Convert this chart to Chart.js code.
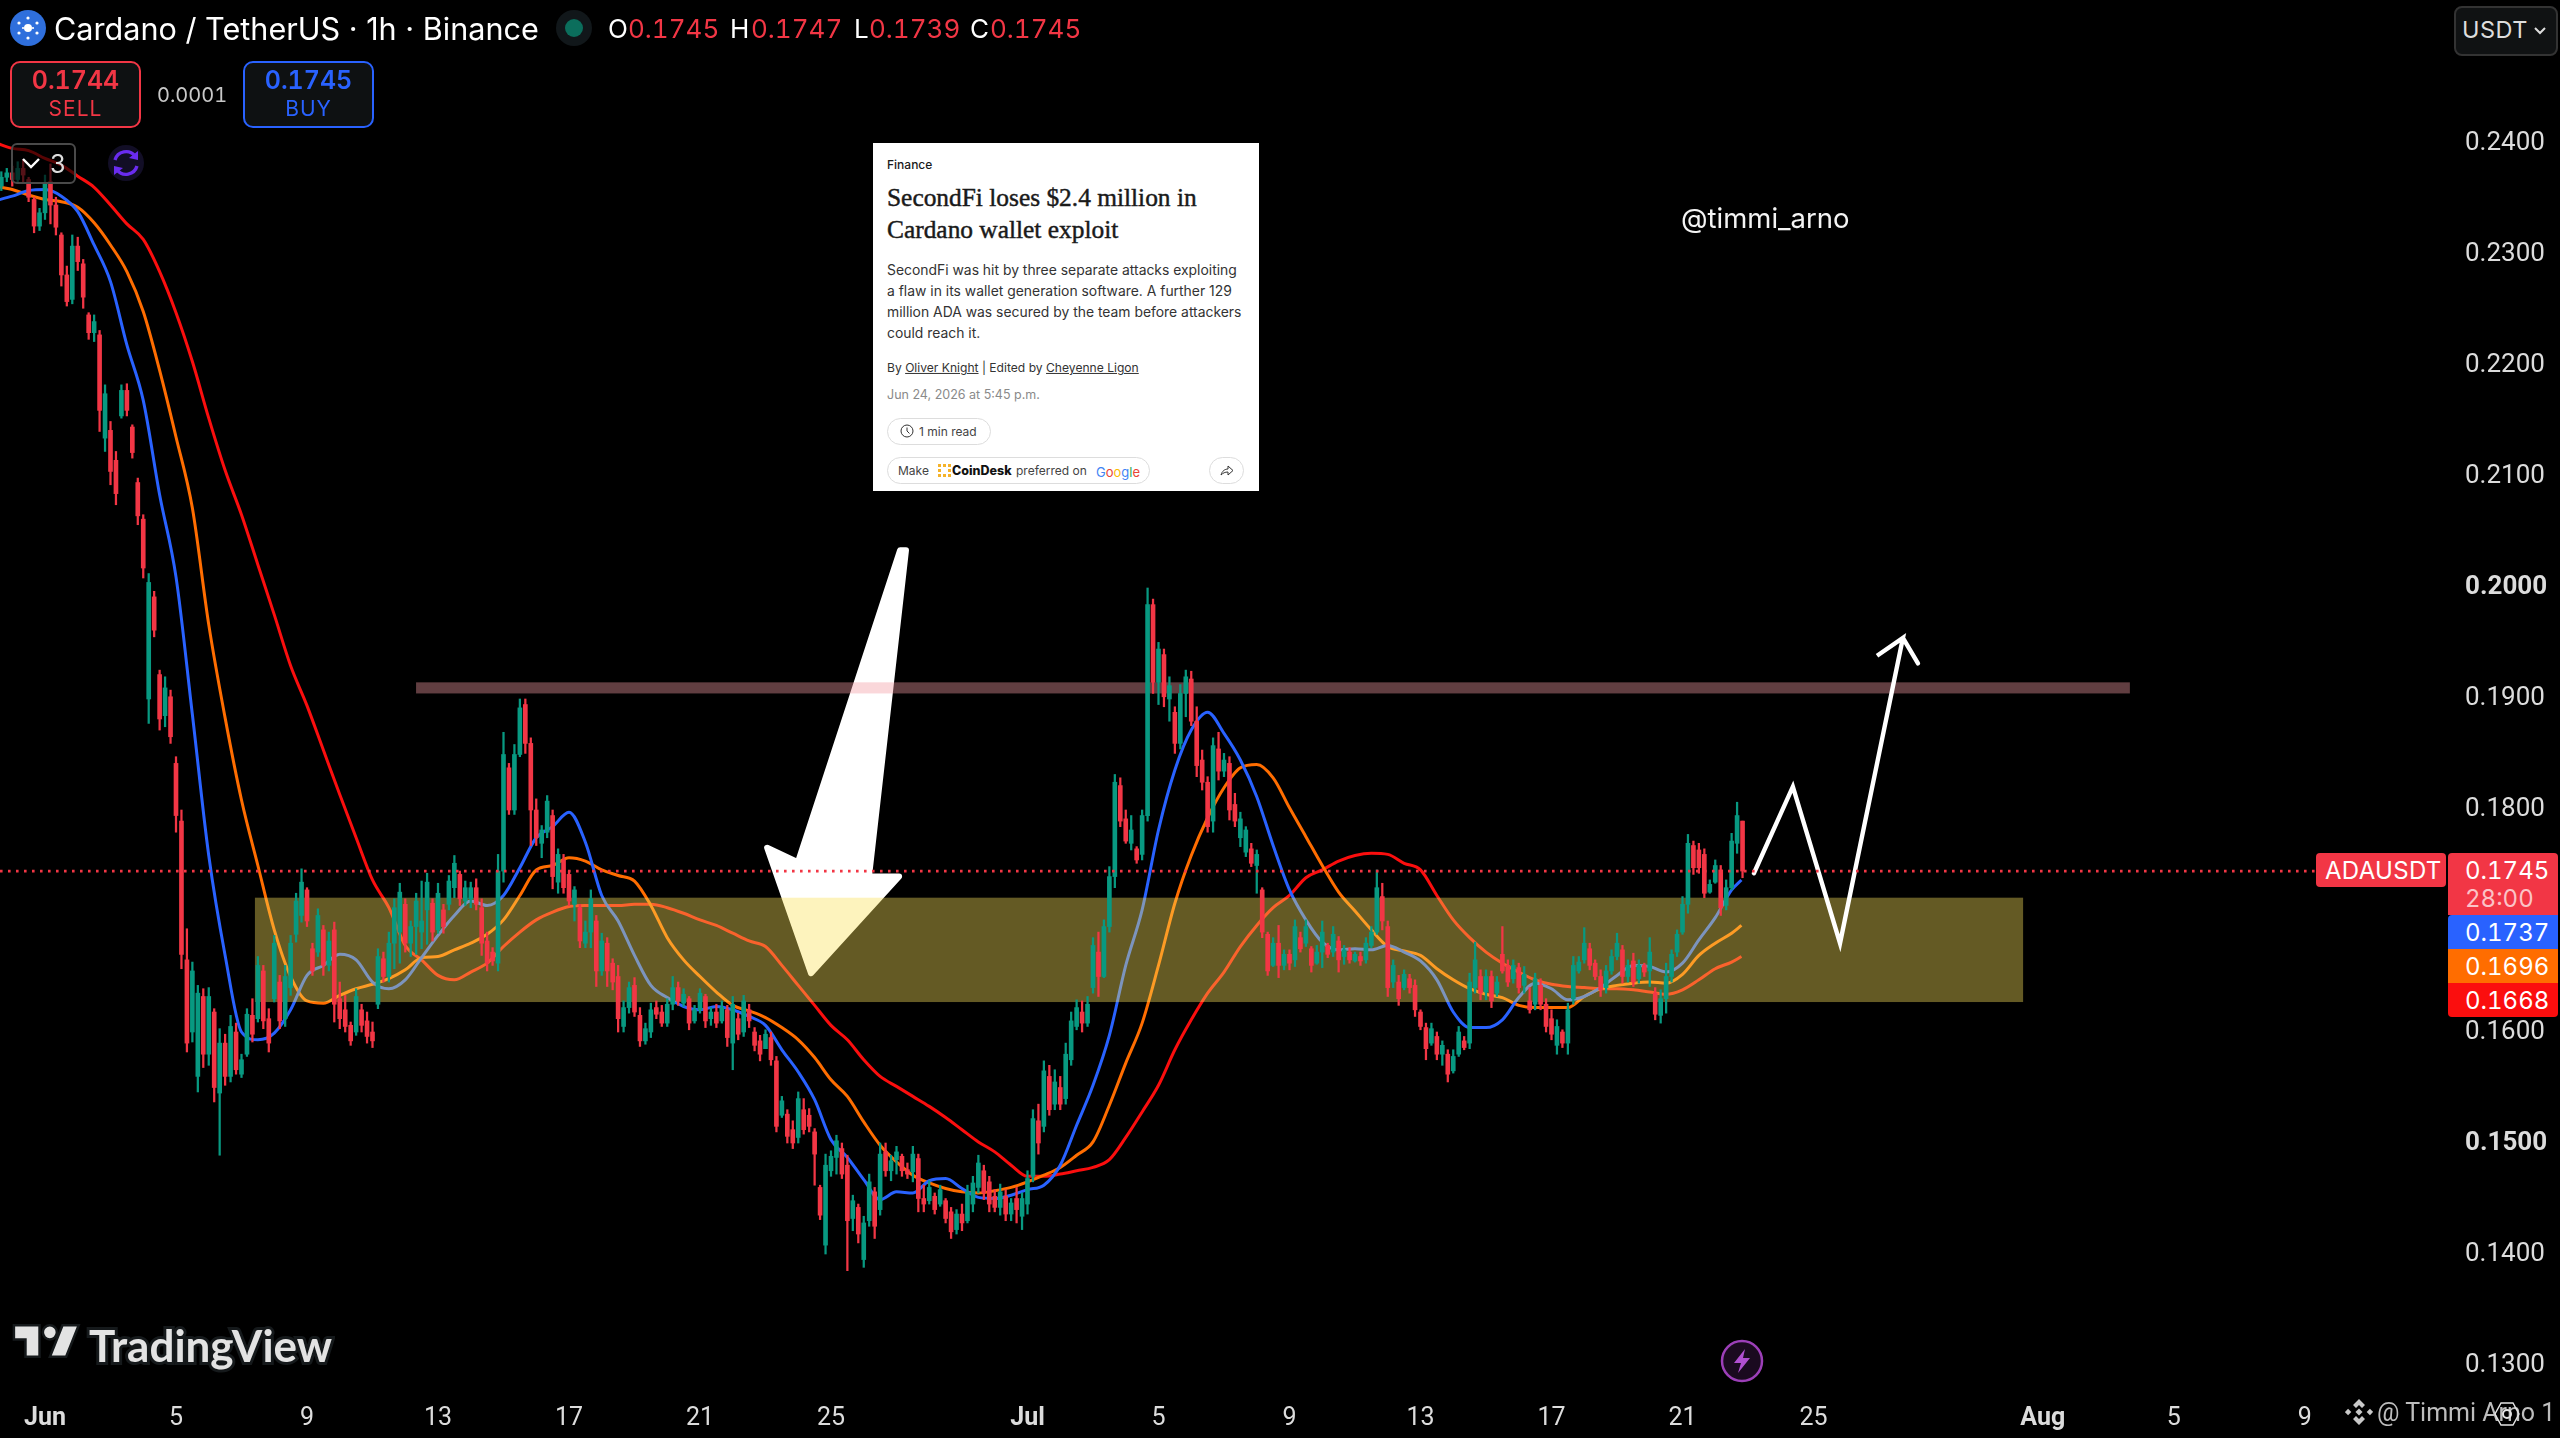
<!DOCTYPE html>
<html><head><meta charset="utf-8">
<script src="https://cdn.jsdelivr.net/npm/chart.js@4"></script>
<style>
html,body{margin:0;padding:0;background:#000;width:2560px;height:1438px;overflow:hidden}
body{position:relative;font-family:Inter,"Noto Sans",sans-serif;color:#fff;font-variant-numeric:tabular-nums}
canvas{position:absolute;left:0;top:0}
.t{position:absolute;white-space:nowrap;line-height:1;transform:translateY(-50%)}
.box{position:absolute;box-sizing:border-box}
.r{color:#f23645}
.card{font-variant-numeric:normal}
.card .t{color:#1a1a1a}
.head{font-family:'Liberation Serif',serif;font-weight:400;font-size:25.4px;-webkit-text-stroke:.45px #1a1a1a}
.tag{position:absolute;left:2448px;width:110px;color:#fff;font-size:24px;box-sizing:border-box;padding-left:17px}
</style></head><body>
<canvas id="c" width="2560" height="1438"></canvas>

<svg class="box" style="left:10px;top:10px" width="36" height="36" viewBox="0 0 36 36"><circle cx="18" cy="18" r="18" fill="#2f6fdc"/><g fill="#fff"><circle cx="18" cy="18" r="4"/><circle cx="18" cy="8" r="1.6"/><circle cx="18" cy="28" r="1.6"/><circle cx="9" cy="13" r="1.6"/><circle cx="27" cy="13" r="1.6"/><circle cx="9" cy="23" r="1.6"/><circle cx="27" cy="23" r="1.6"/><circle cx="13" cy="18" r="1.1"/><circle cx="23" cy="18" r="1.1"/></g></svg>
<div class="t" style="left:54px;top:29px;font-size:30.6px;font-variant-numeric:normal">Cardano / TetherUS · 1h · Binance</div>
<svg class="box" style="left:556px;top:10px" width="36" height="36"><circle cx="18" cy="18" r="18" fill="#11171a"/><circle cx="18" cy="18" r="9" fill="#0b6e5c"/></svg>
<div class="t" style="left:608px;top:29px;font-size:26px">O</div><div class="t r" style="left:628px;top:29px;font-size:26px">0.1745</div>
<div class="t" style="left:730px;top:29px;font-size:26px">H</div><div class="t r" style="left:751px;top:29px;font-size:26px">0.1747</div>
<div class="t" style="left:854px;top:29px;font-size:26px">L</div><div class="t r" style="left:869px;top:29px;font-size:26px">0.1739</div>
<div class="t" style="left:970px;top:29px;font-size:26px">C</div><div class="t r" style="left:990px;top:29px;font-size:26px">0.1745</div>

<div class="box" style="left:10px;top:61px;width:131px;height:67px;border:2px solid #f23645;border-radius:10px;background:#0e1112"></div>
<div class="t r" style="left:10px;width:131px;text-align:center;top:80px;font-size:25px;font-weight:600">0.1744</div>
<div class="t r" style="left:10px;width:131px;text-align:center;top:108px;font-size:21px;letter-spacing:1px">SELL</div>
<div class="t" style="left:157px;top:95px;font-size:20px;color:#c8c8c8">0.0001</div>
<div class="box" style="left:243px;top:61px;width:131px;height:67px;border:2px solid #2962ff;border-radius:10px;background:#0e1112"></div>
<div class="t" style="left:243px;width:131px;text-align:center;top:80px;font-size:25px;font-weight:600;color:#2962ff">0.1745</div>
<div class="t" style="left:243px;width:131px;text-align:center;top:108px;font-size:21px;letter-spacing:1px;color:#2962ff">BUY</div>

<div class="box" style="left:11px;top:143px;width:65px;height:41px;border:2px solid #4a4a4a;border-radius:6px;background:rgba(0,0,0,.65)"></div>
<svg class="box" style="left:21px;top:156px" width="20" height="14"><path d="M2 3 L10 11 L18 3" fill="none" stroke="#fff" stroke-width="2.4"/></svg>
<div class="t" style="left:50px;top:164px;font-size:25px;color:#ddd">3</div>
<svg class="box" style="left:108px;top:145px" width="36" height="36" viewBox="0 0 36 36"><circle cx="18" cy="18" r="18" fill="#120e26"/><g fill="none" stroke="#6a2cf0" stroke-width="3.4"><path d="M7 15 A11.5 11.5 0 0 1 27 11"/><path d="M29 21 A11.5 11.5 0 0 1 9 25"/></g><path d="M30 6 L30 15 L21 13 Z" fill="#6a2cf0"/><path d="M6 30 L6 21 L15 23 Z" fill="#6a2cf0"/></svg>

<div class="box" style="left:2454px;top:6px;width:104px;height:50px;border:2px solid #333;border-radius:8px;background:#101213"></div>
<div class="t" style="left:2462px;top:30px;font-size:23.5px;color:#ddd;letter-spacing:.5px">USDT</div>
<svg class="box" style="left:2533px;top:26px" width="14" height="10"><path d="M2 2 L7 7 L12 2" fill="none" stroke="#ddd" stroke-width="2"/></svg>

<div class="t" style="left:1681px;top:219px;font-size:27.5px;color:#f4f4f4;font-variant-numeric:normal">@timmi_arno</div>

<div class="box card" style="left:873px;top:143px;width:386px;height:348px;background:#fff">
 <div class="t" style="left:14px;top:22px;font-size:12px;font-weight:500">Finance</div>
 <div class="t head" style="left:14px;top:55px">SecondFi loses $2.4 million in</div>
 <div class="t head" style="left:14px;top:87px">Cardano wallet exploit</div>
 <div class="t" style="left:14px;top:128px;font-size:13.9px;color:#333">SecondFi was hit by three separate attacks exploiting</div>
 <div class="t" style="left:14px;top:149px;font-size:13.9px;color:#333">a flaw in its wallet generation software. A further 129</div>
 <div class="t" style="left:14px;top:170px;font-size:13.9px;color:#333">million ADA was secured by the team before attackers</div>
 <div class="t" style="left:14px;top:191px;font-size:13.9px;color:#333">could reach it.</div>
 <div class="t" style="left:14px;top:225px;font-size:12.1px;color:#333">By <u>Oliver Knight</u> | Edited by <u>Cheyenne Ligon</u></div>
 <div class="t" style="left:14px;top:252px;font-size:12.5px;color:#8a8a8a">Jun 24, 2026 at 5:45 p.m.</div>
 <div class="box" style="left:14px;top:275px;width:104px;height:27px;border:1px solid #ddd;border-radius:14px"></div>
 <svg class="box" style="left:27px;top:281px" width="14" height="14"><circle cx="7" cy="7" r="6" fill="none" stroke="#333"/><path d="M7 3.5V7L9.5 9.5" fill="none" stroke="#333"/></svg>
 <div class="t" style="left:46px;top:289px;font-size:12px;color:#444">1 min read</div>
 <div class="box" style="left:14px;top:314px;width:263px;height:27px;border:1px solid #ddd;border-radius:14px"></div>
 <div class="t" style="left:25px;top:328px;font-size:12px;color:#444">Make</div>
 <div class="box" style="left:65px;top:321px;width:13px;height:13px;border:3px dotted #f5b32a"></div>
 <div class="t" style="left:79px;top:328px;font-size:12.5px;font-weight:800;color:#111">CoinDesk</div>
 <div class="t" style="left:143px;top:328px;font-size:12px;color:#444">preferred on</div>
 <div class="t" style="left:223px;top:329px;font-size:13px;color:#4285f4">G<span style="color:#ea4335">o</span><span style="color:#fbbc05">o</span>g<span style="color:#34a853">l</span><span style="color:#ea4335">e</span></div>
 <div class="box" style="left:336px;top:314px;width:35px;height:27px;border:1px solid #ddd;border-radius:14px"></div>
 <svg class="box" style="left:346px;top:321px" width="15" height="13"><path d="M2 11C3 7 6 5 9 5V2L14 6.5 9 11V8C6 8 4 9 2 11Z" fill="none" stroke="#333"/></svg>
</div>

<div class="box" style="left:2316px;top:853px;width:130px;height:34px;background:#f23645;border-radius:4px"></div>
<div class="t" style="left:2325px;top:871px;font-size:24px;letter-spacing:.3px">ADAUSDT</div>
<div class="tag" style="top:853px;height:62px;background:#f23645;border-radius:4px 4px 0 0"></div>
<div class="t" style="left:2465px;top:871px;font-size:24px">0.1745</div>
<div class="t" style="left:2465px;top:899px;font-size:24px;color:#fbc3c7">28:00</div>
<div class="tag" style="top:915px;height:34px;line-height:36px;background:#2962ff;border-radius:4px 0 0 0">0.1737</div>
<div class="tag" style="top:949px;height:34px;line-height:36px;background:#ff6d00">0.1696</div>
<div class="tag" style="top:983px;height:34px;line-height:36px;background:#fb0e0e;border-radius:0 0 4px 4px">0.1668</div>

<svg class="box" style="left:11px;top:1315px" width="70" height="54" viewBox="0 0 36 28"><path d="M14 6H2v6h6v9h6V6zm14 15h-7l6-15h7l-6 15zm-8-9a3 3 0 1 0 0-6 3 3 0 0 0 0 6z" fill="#e3e3e3" stroke="#15191b" stroke-width="2.6" paint-order="stroke"/></svg>
<div class="t" style="left:89px;top:1345px;font-size:44px;font-weight:700;font-family:Lato,Inter,sans-serif;color:#e3e3e3;-webkit-text-stroke:6px #15191b;paint-order:stroke fill">TradingView</div>

<svg class="box" style="left:1720px;top:1339px" width="44" height="44" viewBox="0 0 44 44"><circle cx="22" cy="22" r="20" fill="#1a0a1f" stroke="#9c3fb8" stroke-width="2.5"/><path d="M25 10L14 24h7l-3 10 12-15h-7z" fill="#b04fd0"/></svg>

<svg class="box" style="left:2345px;top:1398px" width="28" height="28" viewBox="0 0 28 28"><g fill="#c9c9c9"><path d="M14 1l6 6-3 3-3-3-3 3-3-3z"/><path d="M14 27l6-6-3-3-3 3-3-3-3 3z"/><rect x="0.8" y="11.7" width="4.6" height="4.6" transform="rotate(45 3 14)"/><rect x="22.6" y="11.7" width="4.6" height="4.6" transform="rotate(45 25 14)"/><rect x="11.5" y="11.5" width="5" height="5" transform="rotate(45 14 14)"/></g></svg>
<div class="t" style="left:2377px;top:1412px;font-size:25px;font-family:Roboto,sans-serif;color:#bdbdbd;font-variant-numeric:normal">@ Timmi Arno 1</div>
<svg class="box" style="left:2494px;top:1401px" width="26" height="26"><path d="M7 2H19L25 13 19 24H7L1 13Z" fill="none" stroke="#e5e5e5" stroke-width="1.4"/><circle cx="13" cy="13" r="4" fill="none" stroke="#e5e5e5" stroke-width="2"/></svg>

<script>
/* prices */
const firstCandleDay = -8/6, candleStepDays = 1/6;
const candleHighs = [
.2375,.2378,.2380,.2384,.2386,.2370,.2352,.2342,.2372,.2382,
.2352,.2320,.2290,.2318,.2316,.2296,.2248,.2246,.2232,.2183,
.2150,.2123,.2183,.2184,.2147,.2099,.2066,.2013,.1997,.1926,
.1920,.1908,.1848,.1800,.1693,.1663,.1642,.1639,.1640,.1621,
.1603,.1598,.1615,.1608,.1580,.1621,.1630,.1668,.1660,.1621,
.1687,.1651,.1660,.1687,.1725,.1747,.1730,.1680,.1711,.1696,
.1690,.1699,.1645,.1633,.1609,.1639,.1625,.1618,.1609,.1675,
.1672,.1690,.1720,.1734,.1720,.1700,.1725,.1736,.1743,.1720,
.1734,.1715,.1741,.1759,.1745,.1736,.1735,.1738,.1720,.1690,
.1676,.1760,.1870,.1842,.1859,.1900,.1900,.1865,.1810,.1786,
.1813,.1800,.1765,.1760,.1745,.1731,.1715,.1700,.1728,.1705,
.1689,.1685,.1666,.1660,.1628,.1645,.1649,.1622,.1608,.1626,
.1628,.1624,.1630,.1650,.1645,.1639,.1632,.1624,.1639,.1634,
.1622,.1625,.1628,.1624,.1632,.1617,.1633,.1625,.1604,.1597,
.1602,.1600,.1578,.1542,.1530,.1520,.1546,.1540,.1531,.1513,
.1462,.1490,.1493,.1507,.1500,.1489,.1453,.1445,.1434,.1472,
.1460,.1500,.1500,.1489,.1497,.1490,.1482,.1497,.1490,.1462,
.1466,.1455,.1462,.1450,.1442,.1440,.1445,.1462,.1470,.1489,
.1480,.1470,.1458,.1463,.1458,.1450,.1460,.1455,.1475,.1530,
.1535,.1574,.1570,.1566,.1560,.1590,.1618,.1629,.1628,.1632,
.1685,.1690,.1701,.1749,.1832,.1829,.1800,.1795,.1767,.1800,
.2000,.1990,.1951,.1945,.1920,.1893,.1913,.1926,.1925,.1893,
.1854,.1830,.1865,.1870,.1851,.1848,.1815,.1798,.1785,.1770,
.1764,.1730,.1690,.1685,.1696,.1674,.1674,.1701,.1690,.1701,
.1677,.1678,.1700,.1680,.1695,.1686,.1678,.1676,.1672,.1672,
.1685,.1695,.1746,.1734,.1700,.1665,.1651,.1656,.1652,.1647,
.1620,.1608,.1608,.1600,.1592,.1584,.1584,.1605,.1596,.1653,
.1681,.1656,.1656,.1655,.1650,.1695,.1665,.1665,.1662,.1659,
.1640,.1653,.1648,.1630,.1620,.1611,.1602,.1626,.1668,.1668,
.1694,.1680,.1665,.1656,.1660,.1674,.1689,.1678,.1665,.1671,
.1665,.1662,.1685,.1640,.1638,.1662,.1674,.1692,.1722,.1778,
.1772,.1770,.1765,.1737,.1755,.1750,.1737,.1779,.1807,.1790];
const candleOpens = [
.2362,.2370,.2374,.2368,.2378,.2368,.2350,.2326,.2338,.2366,
.2345,.2318,.2282,.2260,.2308,.2292,.2246,.2230,.2228,.2135,
.2142,.2115,.2155,.2178,.2145,.2095,.2062,.1900,.1992,.1922,
.1885,.1902,.1842,.1790,.1665,.1600,.1560,.1632,.1580,.1618,
.1545,.1590,.1560,.1600,.1562,.1580,.1615,.1612,.1655,.1612,
.1630,.1645,.1612,.1640,.1688,.1705,.1728,.1675,.1672,.1692,
.1660,.1692,.1630,.1620,.1606,.1600,.1620,.1610,.1600,.1625,
.1666,.1650,.1680,.1690,.1715,.1680,.1695,.1690,.1710,.1716,
.1692,.1710,.1715,.1730,.1742,.1718,.1720,.1730,.1712,.1682,
.1672,.1662,.1745,.1838,.1800,.1850,.1895,.1860,.1800,.1770,
.1780,.1795,.1735,.1755,.1742,.1715,.1712,.1680,.1690,.1700,
.1655,.1680,.1662,.1650,.1605,.1622,.1642,.1615,.1592,.1600,
.1622,.1618,.1608,.1625,.1640,.1626,.1630,.1610,.1620,.1632,
.1612,.1618,.1610,.1620,.1590,.1612,.1600,.1620,.1600,.1592,
.1585,.1595,.1574,.1525,.1526,.1512,.1505,.1530,.1525,.1510,
.1460,.1408,.1475,.1487,.1495,.1480,.1432,.1442,.1395,.1430,
.1456,.1440,.1492,.1475,.1485,.1488,.1476,.1474,.1486,.1450,
.1448,.1452,.1445,.1448,.1438,.1422,.1436,.1430,.1445,.1460,
.1475,.1465,.1452,.1442,.1452,.1436,.1450,.1434,.1445,.1470,
.1520,.1515,.1560,.1535,.1550,.1540,.1575,.1605,.1618,.1608,
.1640,.1672,.1650,.1695,.1740,.1822,.1792,.1770,.1765,.1760,
.1795,.1985,.1915,.1940,.1900,.1888,.1860,.1905,.1918,.1880,
.1845,.1825,.1790,.1855,.1835,.1842,.1805,.1775,.1762,.1765,
.1750,.1728,.1688,.1660,.1680,.1660,.1670,.1665,.1685,.1680,
.1675,.1662,.1672,.1678,.1672,.1682,.1668,.1672,.1664,.1668,
.1665,.1678,.1690,.1722,.1695,.1645,.1645,.1640,.1648,.1642,
.1618,.1604,.1590,.1596,.1580,.1580,.1565,.1580,.1592,.1590,
.1640,.1650,.1636,.1650,.1635,.1670,.1660,.1648,.1658,.1642,
.1628,.1625,.1642,.1625,.1612,.1588,.1600,.1590,.1630,.1655,
.1665,.1675,.1662,.1650,.1640,.1655,.1668,.1674,.1650,.1664,
.1648,.1660,.1655,.1635,.1615,.1630,.1650,.1672,.1690,.1715,
.1768,.1764,.1760,.1726,.1735,.1746,.1714,.1730,.1770,.1790];
const candleCloses = [
.2370,.2374,.2368,.2378,.2372,.2352,.2326,.2338,.2365,.2345,
.2325,.2282,.2258,.2308,.2294,.2262,.2230,.2240,.2160,.2175,
.2105,.2085,.2178,.2160,.2122,.2065,.2018,.2005,.1962,.1882,
.1910,.1866,.1795,.1670,.1590,.1655,.1635,.1580,.1632,.1550,
.1590,.1560,.1605,.1566,.1575,.1616,.1598,.1660,.1610,.1590,
.1680,.1610,.1650,.1680,.1718,.1735,.1700,.1655,.1705,.1660,
.1682,.1625,.1612,.1605,.1592,.1632,.1606,.1596,.1592,.1668,
.1650,.1680,.1712,.1726,.1680,.1695,.1718,.1700,.1735,.1690,
.1725,.1695,.1736,.1752,.1720,.1730,.1730,.1715,.1680,.1662,
.1664,.1745,.1850,.1800,.1850,.1892,.1860,.1800,.1775,.1782,
.1808,.1740,.1760,.1730,.1718,.1728,.1682,.1690,.1720,.1655,
.1682,.1655,.1645,.1612,.1622,.1640,.1618,.1592,.1603,.1620,
.1616,.1608,.1625,.1640,.1628,.1634,.1608,.1620,.1635,.1610,
.1618,.1608,.1622,.1595,.1625,.1598,.1628,.1610,.1588,.1580,
.1598,.1575,.1515,.1538,.1506,.1500,.1540,.1512,.1515,.1490,
.1435,.1480,.1488,.1502,.1472,.1430,.1448,.1418,.1428,.1465,
.1425,.1490,.1475,.1484,.1492,.1475,.1472,.1490,.1450,.1445,
.1460,.1440,.1458,.1432,.1420,.1436,.1428,.1456,.1464,.1482,
.1455,.1445,.1442,.1456,.1436,.1446,.1440,.1450,.1468,.1522,
.1500,.1565,.1530,.1555,.1535,.1580,.1610,.1622,.1608,.1625,
.1678,.1650,.1695,.1740,.1825,.1790,.1772,.1782,.1755,.1795,
.1985,.1915,.1945,.1902,.1912,.1860,.1905,.1920,.1880,.1840,
.1825,.1785,.1858,.1835,.1845,.1800,.1790,.1792,.1782,.1752,
.1760,.1690,.1655,.1680,.1660,.1670,.1662,.1695,.1675,.1695,
.1660,.1672,.1690,.1670,.1688,.1665,.1674,.1665,.1670,.1664,
.1680,.1690,.1730,.1700,.1640,.1660,.1630,.1652,.1640,.1620,
.1605,.1585,.1603,.1580,.1588,.1562,.1578,.1600,.1586,.1645,
.1665,.1635,.1650,.1628,.1645,.1655,.1645,.1660,.1640,.1652,
.1620,.1648,.1625,.1605,.1598,.1605,.1590,.1620,.1660,.1663,
.1680,.1660,.1650,.1638,.1655,.1668,.1680,.1650,.1660,.1645,
.1660,.1654,.1672,.1616,.1630,.1650,.1670,.1688,.1715,.1770,
.1748,.1748,.1725,.1733,.1750,.1712,.1730,.1772,.1795,.1745];
const candleLows = [
.2358,.2366,.2362,.2365,.2366,.2348,.2320,.2322,.2332,.2328,
.2318,.2272,.2254,.2256,.2286,.2252,.2224,.2222,.2141,.2123,
.2093,.2075,.2153,.2155,.2117,.2057,.2009,.1878,.1956,.1872,
.1875,.1860,.1780,.1657,.1582,.1591,.1546,.1568,.1570,.1537,
.1489,.1552,.1555,.1562,.1559,.1578,.1591,.1609,.1603,.1582,
.1627,.1603,.1605,.1633,.1681,.1699,.1695,.1651,.1668,.1651,
.1655,.1609,.1603,.1600,.1588,.1597,.1600,.1590,.1586,.1621,
.1645,.1645,.1657,.1662,.1672,.1668,.1670,.1675,.1679,.1682,
.1689,.1689,.1710,.1721,.1714,.1714,.1712,.1710,.1669,.1655,
.1660,.1655,.1735,.1796,.1796,.1848,.1851,.1768,.1768,.1757,
.1775,.1729,.1725,.1725,.1714,.1700,.1676,.1676,.1676,.1641,
.1651,.1641,.1638,.1600,.1600,.1617,.1614,.1587,.1589,.1595,
.1612,.1605,.1605,.1620,.1624,.1623,.1602,.1608,.1617,.1604,
.1606,.1604,.1608,.1587,.1566,.1593,.1596,.1604,.1583,.1574,
.1585,.1570,.1510,.1523,.1500,.1495,.1500,.1508,.1510,.1462,
.1431,.1400,.1470,.1472,.1468,.1385,.1421,.1410,.1388,.1425,
.1414,.1435,.1470,.1466,.1472,.1470,.1468,.1465,.1438,.1438,
.1445,.1436,.1443,.1428,.1414,.1418,.1421,.1428,.1438,.1455,
.1449,.1438,.1438,.1435,.1430,.1430,.1428,.1422,.1436,.1465,
.1490,.1510,.1525,.1530,.1530,.1535,.1570,.1602,.1600,.1605,
.1635,.1632,.1649,.1690,.1730,.1785,.1770,.1764,.1752,.1755,
.1790,.1905,.1895,.1893,.1880,.1851,.1855,.1884,.1876,.1830,
.1818,.1780,.1780,.1827,.1830,.1791,.1785,.1767,.1758,.1749,
.1725,.1685,.1651,.1659,.1649,.1656,.1656,.1659,.1672,.1677,
.1654,.1661,.1658,.1667,.1668,.1654,.1661,.1662,.1663,.1660,
.1662,.1676,.1688,.1692,.1632,.1640,.1624,.1638,.1635,.1614,
.1602,.1575,.1588,.1575,.1570,.1555,.1563,.1578,.1584,.1585,
.1635,.1629,.1629,.1622,.1632,.1653,.1641,.1644,.1635,.1635,
.1617,.1620,.1620,.1600,.1593,.1580,.1586,.1580,.1625,.1653,
.1662,.1656,.1647,.1632,.1635,.1652,.1665,.1644,.1645,.1641,
.1644,.1650,.1641,.1611,.1608,.1617,.1645,.1668,.1688,.1707,
.1742,.1743,.1721,.1725,.1734,.1705,.1710,.1728,.1761,.1739];

/* moving averages, one value every half day from day -1.5, last one at day 51.8 */
const maDays = Array.from({length:107},(_,i)=>-1.5+i*0.5).concat([51.8]);
const maBlue = [
.2349,.2353,.2358,.2359,.2353,.2339,.2309,.2276,.2219,.2169,.2084,.2010,.1886,.1759,.1669,.1600,.1593,.1599,.1620,.1651,
.1660,.1670,.1665,.1645,.1639,.1647,.1667,.1687,.1705,.1718,.1714,.1723,.1748,.1775,.1785,.1798,.1771,.1723,.1700,.1669,
.1642,.1631,.1623,.1620,.1623,.1620,.1614,.1606,.1584,.1564,.1539,.1503,.1487,.1467,.1449,.1456,.1455,.1466,.1468,.1459,
.1451,.1450,.1453,.1458,.1462,.1480,.1516,.1552,.1597,.1660,.1710,.1782,.1836,.1872,.1888,.1869,.1845,.1812,.1768,.1728,
.1701,.1681,.1674,.1675,.1674,.1678,.1672,.1664,.1647,.1618,.1604,.1604,.1611,.1631,.1644,.1639,.1629,.1632,.1640,.1651,
.1660,.1659,.1654,.1662,.1683,.1703,.1728,.1737];
const maOrange = [
.2362,.2359,.2354,.2350,.2348,.2343,.2329,.2309,.2285,.2249,.2196,.2136,.2072,.1967,.1883,.1809,.1750,.1692,.1650,.1628,
.1626,.1633,.1639,.1643,.1648,.1656,.1667,.1668,.1674,.1680,.1688,.1701,.1723,.1746,.1750,.1757,.1754,.1746,.1741,.1736,
.1714,.1685,.1665,.1650,.1636,.1624,.1619,.1613,.1604,.1593,.1577,.1557,.1542,.1519,.1498,.1483,.1471,.1464,.1459,.1456,
.1455,.1457,.1460,.1465,.1471,.1478,.1489,.1501,.1534,.1572,.1608,.1660,.1716,.1759,.1793,.1820,.1838,.1841,.1829,.1802,
.1776,.1750,.1726,.1709,.1692,.1677,.1673,.1669,.1657,.1647,.1639,.1634,.1631,.1624,.1622,.1622,.1622,.1632,.1639,.1642,
.1644,.1645,.1644,.1652,.1669,.1680,.1689,.1696];
const maRed = [
.2401,.2396,.2394,.2387,.2381,.2371,.2361,.2345,.2328,.2314,.2285,.2248,.2204,.2153,.2106,.2066,.2021,.1976,.1930,.1894,
.1854,.1814,.1775,.1737,.1712,.1678,.1665,.1651,.1647,.1654,.1662,.1677,.1690,.1701,.1708,.1713,.1714,.1714,.1714,.1715,
.1715,.1712,.1707,.1701,.1696,.1689,.1682,.1677,.1660,.1642,.1624,.1606,.1593,.1575,.1560,.1551,.1542,.1533,.1523,.1512,
.1501,.1492,.1480,.1470,.1470,.1472,.1475,.1478,.1485,.1505,.1528,.1552,.1584,.1611,.1635,.1654,.1677,.1696,.1712,.1723,
.1739,.1746,.1754,.1759,.1761,.1760,.1752,.1746,.1723,.1701,.1685,.1672,.1662,.1654,.1647,.1643,.1641,.1640,.1639,.1639,
.1638,.1636,.1634,.1638,.1647,.1657,.1663,.1668];

const lastPrice = 0.1745;
const priceTicks = [0.24,0.23,0.22,0.21,0.20,0.19,0.18,0.16,0.15,0.14,0.13];
const boldPrices = [0.20,0.15];
const dayTicks  = [0,4,8,12,16,20,24,30,34,38,42,46,50,54,61,65,69];
const dayLabels = ['Jun','5','9','13','17','21','25','Jul','5','9','13','17','21','25','Aug','5','9'];
const boldDayLabels = ['Jun','Jul','Aug'];

/* drawings on the chart, in days and prices */
const supplyZone = {days:[11.33,63.66], prices:[0.1915,0.1905], color:'rgba(242,155,162,0.4)'};
const demandZone = {days:[6.41,60.40], prices:[0.1721,0.1627], color:'rgba(250,225,90,0.4)'};
const bigArrowDays   = [26.11,26.29,25.16,26.08,23.39,22.05,22.99];
const bigArrowPrices = [.2034,.2034,.1740,.1740,.1653,.1766,.1753];
const pathDays   = [52.18,53.37,54.81,56.73,55.94,56.73,57.19];
const pathPrices = [.1743,.1821,.1680,.1955,.1939,.1955,.1932];

const UP='#089981', DOWN='#f23645';
const candleX = i => firstCandleDay + i*candleStepDays;
const candleColors = candleCloses.map((c,i)=> c>=candleOpens[i]?UP:DOWN);
const line = (xs,ys,color,width,order,extra) => Object.assign({
  type:'line', data:xs.map((x,i)=>({x,y:ys[i]})), borderColor:color, borderWidth:width,
  pointRadius:0, order, fill:false}, extra||{});

const drawingsBelowCandles = {
  id:'drawingsBelowCandles',
  beforeDatasetDraw(chart,args){
    if(args.index!==0) return;
    const x=chart.scales.x,y=chart.scales.y,ctx=chart.ctx,a=chart.chartArea;
    ctx.save();
    ctx.beginPath();ctx.rect(a.left,a.top,a.right-a.left,a.bottom-a.top);ctx.clip();
    ctx.beginPath();
    bigArrowDays.forEach((d,i)=>{const px=x.getPixelForValue(d),py=y.getPixelForValue(bigArrowPrices[i]);i?ctx.lineTo(px,py):ctx.moveTo(px,py);});
    ctx.closePath();ctx.fillStyle='#fff';ctx.strokeStyle='#fff';ctx.lineWidth=6;ctx.lineJoin='round';ctx.fill();ctx.stroke();
    [supplyZone,demandZone].forEach(z=>{
      const l=x.getPixelForValue(z.days[0]),r=x.getPixelForValue(z.days[1]),t=y.getPixelForValue(z.prices[0]),b=y.getPixelForValue(z.prices[1]);
      ctx.fillStyle=z.color;ctx.fillRect(l,t,r-l,b-t);
    });
    ctx.restore();
  }
};

new Chart(document.getElementById('c'),{
  type:'bar',
  plugins:[drawingsBelowCandles],
  data:{datasets:[
    {label:'wicks',data:candleHighs.map((h,i)=>({x:candleX(i),y:[candleLows[i],h]})),backgroundColor:candleColors,barThickness:1.6,grouped:false,order:20,borderWidth:0},
    {label:'bodies',data:candleOpens.map((o,i)=>({x:candleX(i),y:[o,candleCloses[i]]})),backgroundColor:candleColors,barThickness:4,grouped:false,order:19,borderWidth:0},
    line(maDays,maRed,'#fb0e0e',3,50,{cubicInterpolationMode:'monotone'}),
    line(maDays,maOrange,'#ff6d00',3,49,{cubicInterpolationMode:'monotone'}),
    line(maDays,maBlue,'#2962ff',3,48,{cubicInterpolationMode:'monotone'}),
    line(pathDays,pathPrices,'#ffffff',4.4,5,{tension:0,borderCapStyle:'round',borderJoinStyle:'miter'}),
    line([-1.374,69.3],[lastPrice,lastPrice],'#f23645',2.8,1,{borderDash:[2.6,5.4]})
  ]},
  options:{
    responsive:false,animation:false,devicePixelRatio:1,
    layout:{padding:0},
    plugins:{legend:{display:false},tooltip:{enabled:false},title:{display:false}},
    scales:{
      x:{type:'linear',min:-1.374,max:73.435,offset:false,grid:{display:false},border:{display:false},
        afterBuildTicks(s){s.ticks=dayTicks.map(v=>({value:v}));},
        afterFit(s){s.height=53;s.paddingLeft=0;s.paddingRight=0;},
        ticks:{autoSkip:false,maxRotation:0,minRotation:0,padding:11,color:'#dcdcdc',
          font:c=>({family:'Roboto',size:25,weight:(c.tick&&boldDayLabels.includes(c.tick.label))?'700':'400'}),
          callback:(v,i)=>dayLabels[i]}},
      y:{type:'linear',position:'right',min:0.12820,max:0.25297,grid:{display:false},border:{display:false},
        afterBuildTicks(s){s.ticks=priceTicks.map(v=>({value:v}));},
        afterFit(s){s.width=110;s.paddingTop=0;s.paddingBottom=0;},
        ticks:{autoSkip:false,padding:7,color:'#dcdcdc',
          font:c=>({family:'Roboto',size:26,weight:(c.tick&&boldPrices.some(b=>Math.abs(b-c.tick.value)<1e-6))?'700':'400'}),
          callback:v=>v.toFixed(4)}}
    }
  }
});
</script>
</body></html>
